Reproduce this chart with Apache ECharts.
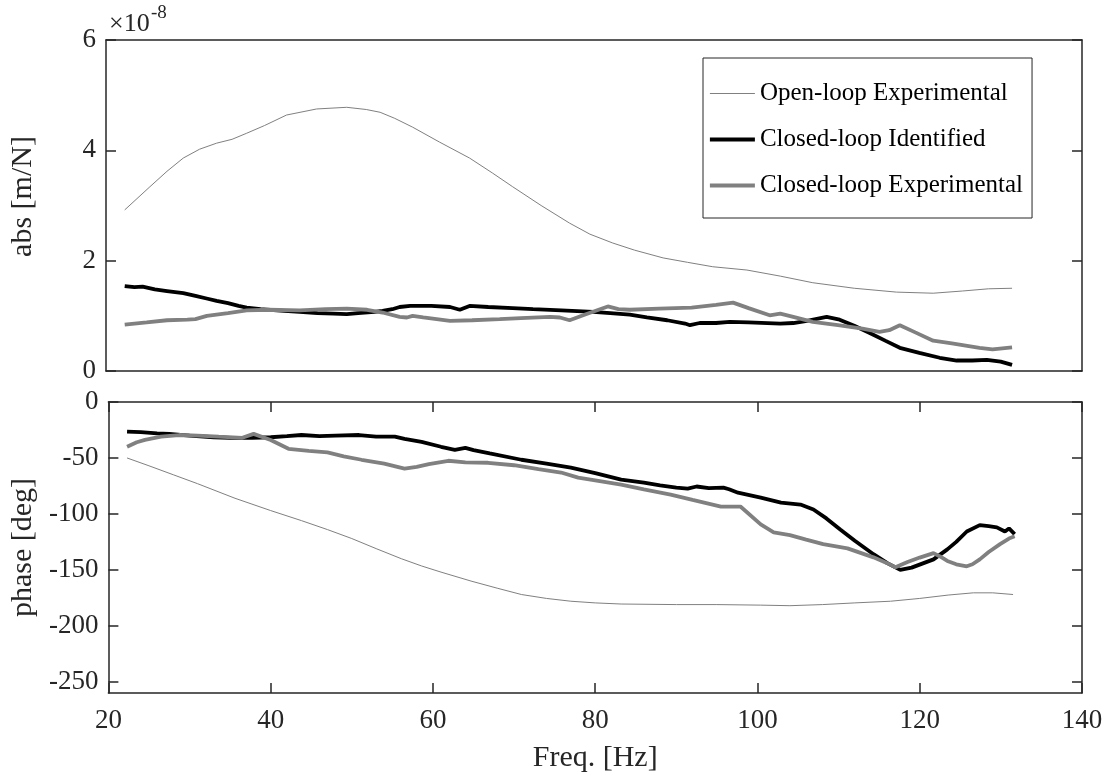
<!DOCTYPE html>
<html>
<head>
<meta charset="utf-8">
<script src="https://cdn.jsdelivr.net/npm/echarts@6/dist/echarts.min.js"></script>
<style>
  html, body { margin: 0; background: #fff; }
  #chart { width: 1110px; height: 778px; }
</style>
</head>
<body>
<div id="chart"></div>
<script>
// [freq Hz, value] pairs. magnitude in units of 1e-8 m/N, phase in deg
var olMag = [[22.3,2.92],[25.4,3.34],[27.5,3.62],[29.5,3.86],[31.5,4.02],[33.6,4.13],[35.5,4.2],[37.3,4.31],[39.5,4.45],[42.2,4.64],[45.9,4.75],[49.6,4.78],[52,4.74],[53.7,4.69],[55.5,4.58],[57.7,4.42],[61,4.15],[64.7,3.86],[67.5,3.59],[70,3.34],[73.5,3.0],[77,2.68],[79.5,2.48],[82.3,2.32],[85,2.19],[88.5,2.05],[91.5,1.97],[94.6,1.89],[98.8,1.83],[102.9,1.72],[106.9,1.6],[112,1.5],[117.2,1.43],[121.7,1.41],[125.3,1.45],[128.5,1.49],[131.4,1.5]];
var clMagId = [[22.3,1.54],[23.5,1.52],[24.5,1.53],[26,1.48],[27.5,1.45],[29.5,1.41],[31,1.36],[32.5,1.31],[33.6,1.27],[35,1.23],[36.3,1.18],[37.3,1.15],[39,1.12],[41,1.1],[43.8,1.07],[46,1.05],[48,1.04],[49.6,1.03],[51,1.05],[53,1.07],[54,1.09],[55.2,1.12],[56.1,1.16],[57.4,1.18],[60,1.18],[62.3,1.16],[63.5,1.11],[64.7,1.18],[67,1.16],[70,1.14],[72.5,1.12],[76,1.1],[79.9,1.07],[82,1.05],[84.4,1.02],[86.5,0.97],[89,0.92],[91.2,0.86],[91.8,0.83],[93,0.87],[95,0.87],[96.7,0.89],[99,0.88],[102.9,0.86],[104.5,0.87],[106.2,0.91],[108.6,0.98],[110.2,0.93],[112,0.82],[113.9,0.69],[115.8,0.55],[117.6,0.42],[120,0.33],[122.5,0.24],[124.6,0.19],[126.5,0.19],[128.3,0.2],[130,0.17],[131.4,0.11]];
var clMagExp = [[22.3,0.84],[25,0.88],[27.5,0.92],[30,0.93],[31,0.94],[32.4,1.0],[35,1.05],[37.3,1.1],[40,1.11],[43.8,1.1],[47,1.12],[49.6,1.13],[52.1,1.11],[54,1.06],[56.1,0.98],[57,0.97],[57.7,1.0],[59,0.97],[62.3,0.91],[65,0.92],[68.4,0.94],[71,0.96],[74.6,0.98],[75.8,0.97],[77,0.92],[79,1.03],[81.7,1.17],[83,1.12],[84.4,1.11],[88,1.13],[92,1.15],[95,1.2],[97.1,1.24],[99,1.14],[101.6,1.01],[102.9,1.04],[104.5,0.98],[106.9,0.89],[110,0.83],[113,0.77],[115.1,0.71],[116.3,0.74],[117.6,0.83],[119.5,0.7],[121.7,0.55],[124,0.5],[127.4,0.42],[129,0.39],[131.4,0.43]];

var olPhase = [[22.3,-50],[25,-57],[28,-65],[31,-73],[35.6,-86],[40,-97],[43.8,-106],[47,-114],[50,-122],[53,-131],[56.1,-140],[58.6,-146.5],[61,-152],[64.7,-160],[68,-166.5],[70.9,-172],[74,-175.5],[77,-178],[80,-179.5],[83.2,-180.5],[90,-181],[95,-181],[100.4,-181.5],[104,-182],[108,-181],[112,-179.5],[116.4,-178],[120,-175.5],[123.5,-172.5],[126.6,-170.5],[129,-170.5],[131.5,-172]];
var clPhaseId = [[22.3,-26.5],[24,-27],[26,-28],[27.5,-28.5],[30,-30],[33,-31.5],[35,-32],[37.7,-32],[40,-31.5],[42,-30.5],[43.8,-29.5],[46,-30.5],[48,-30],[50.9,-29.5],[53,-31],[55.3,-31],[56.5,-33],[58.6,-35.6],[61,-40],[62.7,-42.7],[64,-41],[65,-43],[67,-46],[70.9,-51.6],[74,-55],[77,-58.7],[80,-63.5],[83.2,-69.4],[86,-72],[88,-74.5],[90,-76.5],[91.4,-77.4],[92.5,-75.5],[94,-77],[95.8,-76.5],[96.5,-78],[97.6,-81],[100.4,-85.4],[102.9,-89.9],[105.3,-91.6],[106.9,-96],[108.5,-104],[110.2,-113.9],[112,-124],[114.3,-136],[116,-144],[117.6,-150],[119,-148],[121.7,-140.6],[123.4,-131.7],[124.5,-125],[125.8,-115.7],[127.4,-110],[128.5,-111],[129.5,-112],[130.5,-115.7],[131,-113],[131.7,-118]];
var clPhaseExp = [[22.3,-40],[23.5,-36],[24.5,-33.8],[26.5,-31],[28.7,-29.5],[31,-30],[33.6,-31],[36.5,-32],[37.9,-28.5],[40,-34],[42.2,-41.8],[44.7,-43.6],[47,-45],[49,-48.5],[51.2,-51.6],[54,-55],[56.5,-59.6],[58,-58],[59.5,-55.5],[61.9,-52.5],[64,-54],[66.8,-54.3],[70,-56.5],[73,-60],[75.8,-63],[77.9,-67.6],[80,-70],[83.2,-73.8],[86,-78],[89.3,-82.7],[92,-87.5],[95.5,-93.4],[97.9,-93.4],[100.4,-109.4],[102,-116.5],[104,-119],[106,-123],[108.1,-127],[111.1,-130.8],[114.3,-138.8],[116,-144],[117,-147.7],[118.5,-143],[120,-139],[121.7,-135],[122.5,-138],[123.4,-142],[124.5,-145],[125.8,-146.8],[126.5,-145],[127.4,-140.6],[128.5,-134],[129.9,-127],[131,-122],[131.7,-120]];

var names = ['Open-loop Experimental', 'Closed-loop Identified', 'Closed-loop Experimental'];
var magTicks = [0, 2, 4, 6];
var phaseTicks = [0, -50, -100, -150, -200, -250];

var FONT = 'Liberation Serif, Times New Roman, serif';
var AX = '#262626';
var colors = ['#808080', '#000000', '#808080'];
var widths = [1, 3.8, 3.8];

var chart = echarts.init(document.getElementById('chart'));

function xAxis(grid, pos, ticks, labels) {
  return {
    type: 'value', gridIndex: grid, position: pos, min: 20, max: 140, interval: 20,
    axisLine: { show: true, onZero: false, lineStyle: { color: AX, width: 1.5 } },
    axisTick: { show: ticks, inside: true, length: 10, lineStyle: { color: AX, width: 1.5 } },
    axisLabel: { show: labels, margin: 14, color: AX, fontFamily: FONT, fontSize: 27 },
    splitLine: { show: false }
  };
}

function yAxis(grid, pos, min, max, ticks, labels) {
  return {
    type: 'value', gridIndex: grid, position: pos, min: min, max: max,
    axisLine: { show: true, onZero: false, lineStyle: { color: AX, width: 1.5 } },
    axisTick: { show: true, inside: true, length: 10, customValues: ticks, lineStyle: { color: AX, width: 1.5 } },
    axisLabel: { show: labels, margin: 10, customValues: ticks, color: AX, fontFamily: FONT, fontSize: 27 },
    splitLine: { show: false }
  };
}

var yMag = yAxis(0, 'left', 0, 6, magTicks, true);
yMag.name = 'abs [m/N]';
yMag.nameLocation = 'middle';
yMag.nameGap = 68;
yMag.nameTextStyle = { color: AX, fontFamily: FONT, fontSize: 30, padding: [0, 0, 0, 18] };

var yPh = yAxis(1, 'left', -260, 0, phaseTicks, true);
yPh.name = 'phase [deg]';
yPh.nameLocation = 'middle';
yPh.nameGap = 68;
yPh.nameTextStyle = { color: AX, fontFamily: FONT, fontSize: 30 };

var xFreq = xAxis(1, 'bottom', true, true);
xFreq.name = 'Freq. [Hz]';
xFreq.nameLocation = 'middle';
xFreq.nameGap = 50;
xFreq.nameTextStyle = { color: AX, fontFamily: FONT, fontSize: 30 };

function line(i, data, xi, yi) {
  return {
    name: names[i], type: 'line', data: data, xAxisIndex: xi, yAxisIndex: yi,
    symbol: 'none', smooth: false, animation: false,
    lineStyle: { color: colors[i], width: widths[i] },
    itemStyle: { color: colors[i] }
  };
}

chart.setOption({
  backgroundColor: '#fff',
  animation: false,
  grid: [
    { left: 106, top: 40, width: 976, height: 331 },
    { left: 106, top: 402, width: 976, height: 291 }
  ],
  xAxis: [
    xAxis(0, 'bottom', false, false),
    xFreq,
    xAxis(0, 'top', false, false),
    xAxis(1, 'top', true, false)
  ],
  yAxis: [
    yMag,
    yPh,
    yAxis(0, 'right', 0, 6, magTicks, false),
    yAxis(1, 'right', -260, 0, phaseTicks, false)
  ],
  legend: {
    data: names.map(function (n, i) {
      return { name: n, lineStyle: { color: colors[i], width: widths[i] } };
    }),
    orient: 'vertical', left: 703, top: 58,
    padding: [23, 9, 20, 5], itemGap: 21, itemWidth: 45, itemHeight: 14,
    borderColor: AX, borderWidth: 1, backgroundColor: '#fff',
    selectedMode: false,
    itemStyle: { opacity: 0 },
    textStyle: { color: '#000', fontFamily: FONT, fontSize: 25, lineHeight: 24 }
  },
  graphic: [
    { type: 'text', left: 109, top: 11, style: { text: '\u00d710', font: '26px ' + FONT, fill: AX } },
    { type: 'text', left: 151, top: 4, style: { text: '-8', font: '19px ' + FONT, fill: AX } }
  ],
  series: [
    line(0, olMag, 0, 0),
    line(1, clMagId, 0, 0),
    line(2, clMagExp, 0, 0),
    line(0, olPhase, 1, 1),
    line(1, clPhaseId, 1, 1),
    line(2, clPhaseExp, 1, 1)
  ]
});
</script>
</body>
</html>
